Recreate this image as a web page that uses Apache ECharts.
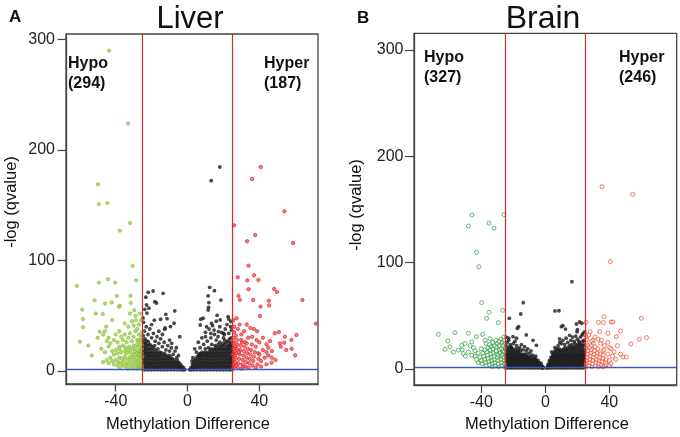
<!DOCTYPE html>
<html><head><meta charset="utf-8">
<script src="https://cdn.jsdelivr.net/npm/echarts@6/dist/echarts.min.js"></script>
<style>html,body{margin:0;padding:0;background:#fff}#c{width:680px;height:437px}</style>
</head><body><div id="c"></div>
<script>
// ---------- tick labels / thresholds ----------
const xTicks = [-40, 0, 40];
const yTicks = [0, 100, 200, 300];
const diffCutoffs = [-25, 25];
const qCutoff = 2;
const panelTitles = ['Liver', 'Brain'];
const hypoCounts = [294, 327];
const hyperCounts = [187, 246];

// ---------- Liver data ----------
const liverHypo = [
[-43.7,290],[-33.1,224],[-49.8,169],[-49.4,151],[-44.6,152],[-32,134],[-37.7,127],[-30.6,95],[-61.7,77],[-49.4,80],[-44.2,83],[-40.3,80],[-28.6,82],[-39.4,68],[-31.8,68],[-51.8,64],[-45.9,61],[-42.2,62],[-37.7,59],[-58.7,55.5],[-51.1,52],[-47.2,51.6],[-58.3,47],[-58.2,39.5],[-60,26.5],[-55.2,23],[-53.3,14],[-48.9,35.6],[-45.3,40],[-29.7,55],[-28.8,46],[-31.6,61.5],[-38.1,58],
[-26,46],[-27,42],[-29,50],[-31,45],[-33,40],[-28,38],[-30,41],[-35,43],[-38,36],[-26.5,52],[-32,52],[-42,46],[-46,36],[-44,30],
[-25.5,35],[-26,30],[-27,33],[-28,28],[-29,36],[-30,31],[-31,27],[-32,34],[-33,30],[-34,26],[-35,33],[-36,28],[-37,31],[-39,26],[-40,33],[-41,28],[-43,25],[-45,27],[-47,33],[-50,30],[-38,22],
[-25.5,24],[-26,20],[-26.5,17],[-27,22],[-27.5,18],[-28,24],[-28.5,16],[-29,21],[-29.5,18],[-30,23],[-30.5,15],[-31,20],[-32,17],[-32.5,22],[-33,19],[-34,16],[-34.5,21],[-35,18],[-36,23],[-37,17],[-38,20],[-39,16],[-40,19],[-42,18],[-44,22],[-46,17],[-48,20],[-41,15],
[-25.3,2],[-25.5,5],[-25.8,9],[-26,12],[-26.2,3],[-26.5,7],[-26.8,14],[-27,4],[-27.3,10],[-27.6,6],[-28,2],[-28.3,12],[-28.6,8],[-29,4],[-29.3,14],[-29.6,10],[-30,6],[-30.4,2],[-30.8,12],[-31.2,8],[-31.6,4],[-32,13],[-32.4,10],[-32.8,6],[-33.2,2],[-33.6,11],[-34,7],[-34.5,4],[-35,13],[-35.5,9],[-36,5],[-36.5,11],[-37,7],[-37.5,3],[-38,12],[-38.5,8],[-39,5],[-40,10],[-41,6],[-42,9],[-43,12],[-44,7],[-45,10],[-47,8],[-25.6,16],[-26.3,18],[-27.1,15],[-25.2,13],[-25.4,20],[-26,26],[-25.7,28],[-27.5,27]
];
const liverHyper = [
[40.8,184.6],[36,173.8],[54,144.5],[58.8,115.8],[37.7,123],[33.2,117.4],[26,131.8],[34,95.3],[37.1,86.6],[28,84.8],[39.5,82.4],[33.3,82],[34,74],[48.3,74.2],[49.9,71.5],[28.4,68],[29.1,64.4],[36.6,64.2],[45.3,63.6],[45.5,59.4],[40.7,58.2],[64,64.2],[71.5,42.8],[40.3,49.8],[27.3,47.7],[48.6,34.1],[50.9,35.2],[54.2,31],[60.7,32.6],[57.9,28],[51.5,25],[53.9,25.6],[60,14.2],[46.8,7.5],[39.5,16],[45,21],[37,38],[38.8,36],[33,42],[35,39],
[25.3,2],[25.6,6],[25.9,10],[26.2,14],[26.5,18],[26.8,22],[25.4,26],[25.7,30],[26,35],[26.3,4],[26.6,8],[26.9,12],[27.2,16],[27.5,20],[27.8,24],[28.1,3],[28.4,7],[28.7,11],[29,15],[29.3,19],[29.6,23],[29.9,28],[30.2,2],[30.5,6],[30.8,10],[31.1,14],[31.4,18],[31.7,22],[32,26],[32.3,4],[32.6,8],[32.9,12],[33.2,16],[33.5,20],[33.8,30],[34.1,3],[34.4,7],[34.7,11],[35,15],[35.4,19],[35.8,24],[36.2,5],[36.6,9],[37,13],[37.5,17],[38,22],[38.5,28],[39,6],[39.5,11],[40,15],[41,9],[42,19],[43,12],[44,24],[45,14],[47,18],[49,10],[27,32],[28,38],[30,33],[31.5,36],[29,42],[26,40],[25.5,46],[27.5,28],[33,25],[36,31],[40,26],[42,30],[44,17],[46,27],[52,22],[55,19],[58,20],[38,3],[41,4],[44,6],[47,12],[25.2,15],[25.5,20],[26.1,25],[27.3,5],[28.8,17],[30.4,26],[31,4]
];
// non-significant sites: columns [x, [y values]] read from the dense mass
const liverNSCols = [
[-24.6,[1.5,4,7,10,13,16,19,22,25,28,32]],[-23.7,[1,3.5,6.5,9.5,12.5,15.5,18.5,21.5,25,29]],[-22.8,[2,5,8,11,14,17,20,23.5,27]],[-21.9,[1,4,7,10,13,16,19.5,23,26.5]],[-21,[2,5,8,11,14,17,20.5,24]],[-20.1,[1,4,7,10,13,16,19,22.5]],[-19.2,[2,5,8,11,14,17,21]],[-18.3,[1,4,7,10,13,16,19.5,23]],[-17.4,[2,5,8,11,14,17.5]],[-16.5,[1,4,7,10,13,16,20]],[-15.6,[2,5,8,11,14,17]],[-14.7,[1,4,7,10,13,16.5]],[-13.8,[2,5,8,11,14.5]],[-12.9,[1,4,7,10,13,16]],[-12,[2,5,8,11,14]],[-11.1,[1,4,7,10,13]],[-10.2,[2,5,8,11,14]],[-9.3,[1,4,7,10,12.5]],[-8.4,[2,5,8,11]],[-7.5,[1,4,7,10]],[-6.6,[2,5,8]],[-5.7,[1,4,7,9.5]],[-4.8,[2,5,7.5]],[-3.9,[1,3.5,6]],[-3,[1.5,4]],[-2.2,[1,3]],[-1.5,[1.2]],
[1.2,[1.2]],[1.9,[1,3]],[2.7,[1.5,4,6.5]],[3.6,[1,3.5,6,9]],[4.5,[2,5,8,11]],[5.4,[1,4,7,10,13]],[6.3,[2,5,8,11,14]],[7.2,[1,4,7,10,13,16]],[8.1,[2,5,8,11,14,17]],[9,[1,4,7,10,13,16]],[9.9,[2,5,8,11,14,17,20]],[10.8,[1,4,7,10,13,16]],[11.7,[2,5,8,11,14,17,21]],[12.6,[1,4,7,10,13,16,19]],[13.5,[2,5,8,11,14,17,20,24]],[14.4,[1,4,7,10,13,16,19]],[15.3,[2,5,8,11,14,17,20,23]],[16.2,[1,4,7,10,13,16,19,22]],[17.1,[2,5,8,11,14,17,20,24]],[18,[1,4,7,10,13,16,19,22,26]],[18.9,[2,5,8,11,14,17,20,23]],[19.8,[1,4,7,10,13,16,19,22,25]],[20.7,[2,5,8,11,14,17,20,24,28]],[21.6,[1,4,7,10,13,16,19,22,26]],[22.5,[2,5,8,11,14,17,20,23,27]],[23.4,[1,4,7,10,13,16,19,22,25,29]],[24.3,[2,5,8,11,14,17,20,23,26,30]],[24.9,[1,4,7,10,13,16,19,22]]
];
const liverNS = [
[-19.2,72.4],[-21.9,71.2],[-13.6,70.3],[-23.2,66.7],[-18.2,62.7],[-17.3,61.5],[-22.8,59.7],[-23.8,55.8],[-21.5,56.8],[-22.6,52.4],[-7.1,54.3],[-12.1,51.3],[-15,46.8],[-11.4,47.3],[-7.5,43.2],[-9.5,40.2],[-12.7,37.8],[-4.3,31],
[12.4,75.7],[15,72.7],[11.5,67.9],[18.6,64.2],[11.9,61.8],[11.7,57.6],[11.5,55.2],[16.5,50.4],[22.6,49.1],[8.7,47.7],[7.4,46.8],[18.2,46.2],[7.1,41.6],[10.6,40],[13.4,43],[24.1,44.7],[14.8,37],[17.2,35.6],[20,34],[18,184.6],[13.2,172.2],
[-24,36],[-22,33],[-20,30],[-18,27],[-16,25],[-14,22],[-12,19],[-10,18],[-8,15],[-6,12],[-23,40],[-21,38],[-19,34],[-17,31],[-15,29],[-13,26],[-11,23],[-9,21],[-7,18],[-24.5,44],[-20,42],[-16,36],[-14,33],[-10,28],[-5,14],[-24.8,48],[-18.5,46],[-12.5,39],[-8.8,25],[-6.2,21],
[3,12],[5,17],[7,21],[9,24],[11,27],[13,30],[15,33],[17,31],[19,35],[21,38],[23,34],[24.5,37],[6,26],[8,30],[10,35],[12,38],[14,41],[16,28],[18,40],[20,30],[22,42],[24,40],[4,20],[20.5,33],[23,47],[10,31],[16,45],[13,34],[6.5,15],[2.5,9]
];

// ---------- Brain data ----------
const brainHypo = [
[-45.9,144.9],[-48.1,134.5],[-35.2,137.3],[-32.1,132.3],[-43.1,109.8],[-41.5,96.2],[-39.8,62.4],[-35.2,53.3],[-36.7,47.7],[-26.7,55.2],[-25.9,145.2],[-29.4,43.6],[-66.9,32.6],[-56.5,34.2],[-61,26.3],[-62.7,18.5],[-48.1,33.6],[-43.1,30.4],[-39.2,32.6],[-59.6,21],[-54.4,17.8],[-51.3,14.6],[-50.2,24],[-46,25.5],[-37.7,27],[-34.6,28.6],[-57.5,16],[-52.3,22.3],
[-25.3,2],[-25.6,5],[-25.9,8],[-26.2,11],[-26.5,14],[-26.8,17],[-25.4,20],[-25.7,24],[-26,27],[-27.1,3],[-27.4,6],[-27.7,9],[-28,12],[-28.3,15],[-28.6,18],[-28.9,22],[-29.2,2],[-29.5,5],[-29.8,8],[-30.1,11],[-30.4,14],[-30.7,17],[-31,21],[-31.3,3],[-31.6,6],[-31.9,9],[-32.2,12],[-32.5,15],[-32.8,19],[-33.1,2],[-33.4,5],[-33.7,8],[-34,11],[-34.3,14],[-34.6,18],[-35,4],[-35.4,7],[-35.8,10],[-36.2,13],[-36.6,16],[-37,3],[-37.5,6],[-38,9],[-38.5,12],[-39,15],[-39.5,5],[-40,8],[-41,11],[-42,6],[-43,9],[-44,12],[-26,30],[-27,25],[-28,28],[-30,24],[-32,22],[-34,21],[-36,20],[-38,18],[-40,19],[-42,15],[-44,17],[-46,13],[-48,16],[-50,12],[-45,20],[-47,22],[-52,18],[-26.4,22],[-27.5,19],[-29,26],[-31,27],[-33,25],[-35,23],[-37,24],[-29.5,13],[-27,13],[-25.8,16]
];
const brainHyper = [
[35.4,171.5],[54.6,164.3],[40.6,101],[60,47.7],[36.6,49.2],[41.2,44.2],[42.2,44.2],[33.2,43.9],[36.3,43.6],[47,35.7],[63.3,29.5],[58.7,27.9],[53.5,23.5],[48.5,11.3],[50.6,11.3],[44.3,30.4],[39.1,33.6],[33.9,35.2],[40.1,20],[36,17],[29.8,27],[25.5,44],[25.3,32],
[25.3,2],[25.6,5],[25.9,8],[26.2,11],[26.5,14],[26.8,17],[25.4,20],[25.7,24],[27.1,3],[27.4,6],[27.7,9],[28,12],[28.3,15],[28.6,18],[28.9,22],[29.2,2],[29.5,5],[29.8,8],[30.1,11],[30.4,14],[30.7,17],[31,21],[31.3,3],[31.6,6],[31.9,9],[32.2,12],[32.5,15],[32.8,19],[33.1,2],[33.4,5],[33.7,8],[34,11],[34.3,14],[34.6,24],[35,4],[35.4,7],[35.8,10],[36.2,13],[36.6,18],[37,3],[37.5,6],[38,9],[39,14],[40,8],[41,5],[42,12],[43,16],[44,9],[45,22],[47,14],[26,28],[27,32],[29,26],[31,30],[33,28],[35,27],[37,22],[39,25],[41,19],[26.3,22],[27.5,20],[30,24],[25.5,30],[28,35],[38,4],[36,2],[40,3]
];
const brainNSCols = [
[-24.6,[1,3.5,6,8.5,11,13.5,16,19,22]],[-23.6,[1.5,4,6.5,9,11.5,14,17,20]],[-22.6,[1,3.5,6,8.5,11,13.5,16,19.5]],[-21.6,[1.5,4,6.5,9,11.5,14,17,21]],[-20.6,[1,3.5,6,8.5,11,13.5,16,18.5]],[-19.6,[1.5,4,6.5,9,11.5,14,17]],[-18.6,[1,3.5,6,8.5,11,13.5,16,19]],[-17.6,[1.5,4,6.5,9,11.5,14,16.5]],[-16.6,[1,3.5,6,8.5,11,13.5,16]],[-15.6,[1.5,4,6.5,9,11.5,14,17]],[-14.6,[1,3.5,6,8.5,11,13.5]],[-13.6,[1.5,4,6.5,9,11.5,14]],[-12.6,[1,3.5,6,8.5,11,13]],[-11.6,[1.5,4,6.5,9,11.5,14]],[-10.6,[1,3.5,6,8.5,11]],[-9.6,[1.5,4,6.5,9,12]],[-8.6,[1,3.5,6,8.5,11]],[-7.6,[1.5,4,6.5,9]],[-6.6,[1,3.5,6,8.5,10.5]],[-5.6,[1.5,4,6.5,8.5]],[-4.6,[1,3.5,6,8]],[-3.6,[1.5,4,6]],[-2.6,[1,3,5]],[-1.7,[1,2.5]],[-1,[1]],
[0.9,[1]],[1.6,[1,2.5,4]],[2.5,[1.5,4,6,8]],[3.5,[1,3.5,6,8.5,11]],[4.5,[1.5,4,6.5,9,11.5,14]],[5.5,[1,3.5,6,8.5,11,13.5,16]],[6.5,[1.5,4,6.5,9,11.5,14,17]],[7.5,[1,3.5,6,8.5,11,13.5,16]],[8.5,[1.5,4,6.5,9,11.5,14,17,19]],[9.5,[1,3.5,6,8.5,11,13.5,16,18]],[10.5,[1.5,4,6.5,9,11.5,14,17]],[11.5,[1,3.5,6,8.5,11,13.5,16,19]],[12.5,[1.5,4,6.5,9,11.5,14,17,20]],[13.5,[1,3.5,6,8.5,11,13.5,16,18.5]],[14.5,[1.5,4,6.5,9,11.5,14,17,20]],[15.5,[1,3.5,6,8.5,11,13.5,16,19]],[16.5,[1.5,4,6.5,9,11.5,14,17,20,23]],[17.5,[1,3.5,6,8.5,11,13.5,16,18.5,21]],[18.5,[1.5,4,6.5,9,11.5,14,17,20,24]],[19.5,[1,3.5,6,8.5,11,13.5,16,19,22]],[20.5,[1.5,4,6.5,9,11.5,14,17,20,23]],[21.5,[1,3.5,6,8.5,11,13.5,16,19,22,25]],[22.5,[1.5,4,6.5,9,11.5,14,17,20,23]],[23.5,[1,3.5,6,8.5,11,13.5,16,19,22,26]],[24.5,[1.5,4,6.5,9,11.5,14,17,20,23]]
];
const brainNS = [
[16.6,82.1],[-13.8,62.4],[-15.4,51.7],[-22.5,47.7],[-16.7,39.8],[-17.5,38.3],[6,54.6],[8.5,54.8],[19.4,42.3],[21.4,44.2],[22.8,43],[10,39.8],[11,40.7],[12.6,37.5],[19.8,35],[-11.9,32],[-22.9,28.9],[-20.2,30.4],[-7.7,27],[8.9,28.3],[15.2,31.7],[23.5,33.3],[-5.6,22.3],
[-24,25],[-22,23],[-20,24],[-18,22],[-16,20],[-14,18],[-12,17],[-10,15],[-8,13],[-23,27],[-19,26],[-21,20],[-17,19],[-15,23],[-13,21],[-6,12],[-11,19],[-9,17],[-24.5,30],[-18,29],
[6,20],[8,22],[10,24],[12,23],[14,25],[16,27],[18,26],[20,28],[22,30],[24,27],[11,27],[13,29],[15,22],[17,30],[19,31],[21,26],[23,32],[4,16],[7,19],[9,25],[24.5,35],[20,37]
];

function expand(cols) {
  const out = [];
  cols.forEach(([x, ys]) => ys.forEach(y => out.push([x, y])));
  return out;
}

const FONT = '"Liberation Sans", Arial, Helvetica, sans-serif';
const AX = '#444';

function xAxisCfg(gi, min, max, tickLen) {
  return {
    gridIndex: gi, type: 'value', min: min, max: max,
    splitLine: { show: false },
    axisLine: { show: true, onZero: false, lineStyle: { color: AX, width: 1.3 } },
    axisTick: { show: true, length: tickLen, customValues: xTicks, lineStyle: { color: AX, width: 1.2 } },
    axisLabel: { customValues: xTicks, fontSize: 16, color: '#222', margin: 10, fontFamily: FONT }
  };
}
function yAxisCfg(gi, min, max, tickLen, margin) {
  return {
    gridIndex: gi, type: 'value', min: min, max: max,
    splitLine: { show: false },
    axisLine: { show: true, onZero: false, lineStyle: { color: AX, width: 1.3 } },
    axisTick: { show: true, length: tickLen, customValues: yTicks, lineStyle: { color: AX, width: 1.2 } },
    axisLabel: { customValues: yTicks, fontSize: 16, color: '#222', margin: margin, fontFamily: FONT }
  };
}
function refLines() {
  return {
    silent: true, symbol: 'none', animation: false, label: { show: false },
    data: [
      { xAxis: diffCutoffs[0], lineStyle: { color: '#d42a2a', width: 1.2, type: 'solid' } },
      { xAxis: diffCutoffs[1], lineStyle: { color: '#d42a2a', width: 1.2, type: 'solid' } },
      { yAxis: qCutoff, lineStyle: { color: '#3d5cb8', width: 1.3, type: 'solid' } }
    ]
  };
}

function txt(x, y, text, size, weight, align, rot) {
  return {
    type: 'text', x: x, y: y, rotation: rot || 0, silent: true,
    style: {
      text: text, fontSize: size, fontWeight: weight || 'normal', fontFamily: FONT, fill: '#111',
      textAlign: align || 'center', textVerticalAlign: 'middle', align: align || 'center', verticalAlign: 'middle'
    }
  };
}

const chart = echarts.init(document.getElementById('c'), null, { renderer: 'canvas' });
chart.setOption({
  animation: false,
  backgroundColor: '#fff',
  grid: [
    { left: 66, top: 34, width: 252, height: 350, show: true, borderColor: AX, borderWidth: 1.3, backgroundColor: 'transparent' },
    { left: 414, top: 33.3, width: 262.7, height: 351.7, show: true, borderColor: AX, borderWidth: 1.3, backgroundColor: 'transparent' }
  ],
  xAxis: [xAxisCfg(0, -67.7, 72.7, 7.5), xAxisCfg(1, -82.1, 82.1, 8)],
  yAxis: [yAxisCfg(0, -11.8, 305, 8.5, 11), yAxisCfg(1, -15.05, 315.7, 9, 10.5)],
  series: [
    { type: 'scatter', xAxisIndex: 0, yAxisIndex: 0, data: expand(liverNSCols).concat(liverNS), symbolSize: 3.8,
      itemStyle: { color: '#1c1c1c' }, markLine: refLines(), z: 2 },
    { type: 'scatter', xAxisIndex: 0, yAxisIndex: 0, data: liverHypo, symbolSize: 3.4, z: 3,
      itemStyle: { color: '#a4cf5c', borderColor: '#86bd34', borderWidth: 0.8 } },
    { type: 'scatter', xAxisIndex: 0, yAxisIndex: 0, data: liverHyper, symbolSize: 3.4, z: 3,
      itemStyle: { color: '#ef5a5a', borderColor: '#e01a22', borderWidth: 0.8 } },
    { type: 'scatter', xAxisIndex: 1, yAxisIndex: 1, data: expand(brainNSCols).concat(brainNS), symbolSize: 3.8,
      itemStyle: { color: '#1c1c1c' }, markLine: refLines(), z: 2 },
    { type: 'scatter', xAxisIndex: 1, yAxisIndex: 1, data: brainHypo, symbolSize: 4, z: 3,
      itemStyle: { color: 'rgba(255,255,255,0.4)', borderColor: '#2f9a3c', borderWidth: 0.9 } },
    { type: 'scatter', xAxisIndex: 1, yAxisIndex: 1, data: brainHyper, symbolSize: 4, z: 3,
      itemStyle: { color: 'rgba(255,255,255,0.4)', borderColor: '#f0482a', borderWidth: 0.9 } }
  ],
  graphic: [
    txt(9, 17, 'A', 17, 'bold', 'left'),
    txt(190, 19, panelTitles[0], 31),
    txt(357, 18, 'B', 17, 'bold', 'left'),
    txt(543, 19, panelTitles[1], 32),
    txt(11, 202, '-log (qvalue)', 16.5, 'normal', 'center', Math.PI / 2),
    txt(356, 205, '-log (qvalue)', 16.5, 'normal', 'center', Math.PI / 2),
    txt(188, 424, 'Methylation Difference', 16.5),
    txt(547, 424, 'Methylation Difference', 16.5),
    txt(68, 64, 'Hypo', 16, 'bold', 'left'),
    txt(68, 84, '(' + hypoCounts[0] + ')', 16, 'bold', 'left'),
    txt(264, 64, 'Hyper', 16, 'bold', 'left'),
    txt(264, 84, '(' + hyperCounts[0] + ')', 16, 'bold', 'left'),
    txt(424, 58, 'Hypo', 16, 'bold', 'left'),
    txt(424, 78, '(' + hypoCounts[1] + ')', 16, 'bold', 'left'),
    txt(619, 58, 'Hyper', 16, 'bold', 'left'),
    txt(619, 78, '(' + hyperCounts[1] + ')', 16, 'bold', 'left')
  ]
});
</script></body></html>
